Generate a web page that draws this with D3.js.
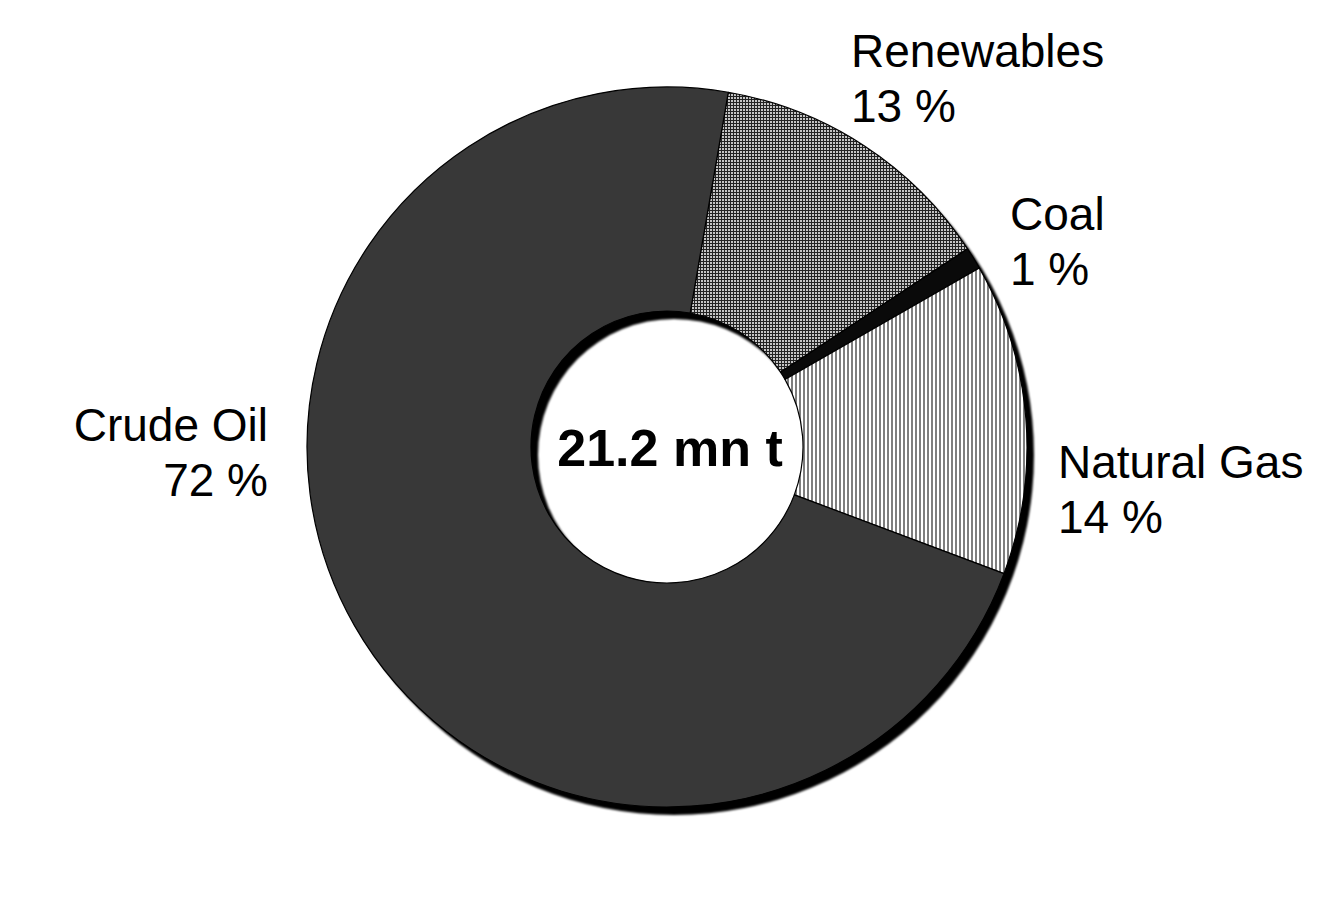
<!DOCTYPE html>
<html>
<head>
<meta charset="utf-8">
<script src="https://cdn.jsdelivr.net/npm/d3@7"></script>
<style>
  html, body { margin: 0; padding: 0; background: #fff; }
  svg { display: block; }
  text { font-family: "Liberation Sans", Arial, sans-serif; fill: #000; }
</style>
</head>
<body>
<svg id="chart" width="1338" height="900"></svg>
<script>
// ---- data ----
const categories = ["Renewables", "Coal", "Natural Gas", "Crude Oil"];
const shares = [13, 1, 14, 72];
const shareLabels = ["13 %", "1 %", "14 %", "72 %"];
const centerLabel = "21.2 mn t";

// ---- layout ----
const W = 1338, H = 900;
const cx = 667, cy = 447;
const outerR = 360, innerR = 136;
const startDeg = 9.8;

const svg = d3.select("#chart");
const defs = svg.append("defs");

// checker pattern (Renewables)
const pc = defs.append("pattern").attr("id", "checker")
  .attr("patternUnits", "userSpaceOnUse").attr("width", 3).attr("height", 3);
pc.append("rect").attr("width", 3).attr("height", 3).attr("fill", "#222222");
pc.append("rect").attr("x", 1).attr("y", 1).attr("width", 2).attr("height", 2).attr("fill", "#c4c4c4");

// vertical stripes (Natural Gas)
const ps = defs.append("pattern").attr("id", "vstripe")
  .attr("patternUnits", "userSpaceOnUse").attr("width", 4).attr("height", 4);
ps.append("rect").attr("width", 4).attr("height", 4).attr("fill", "#ffffff");
ps.append("rect").attr("x", 0).attr("width", 2).attr("height", 4).attr("fill", "#7e7e7e");

const fills = { "Renewables": "url(#checker)", "Coal": "#0a0a0a", "Natural Gas": "url(#vstripe)", "Crude Oil": "#383838" };

const blur = defs.append("filter").attr("id", "soft").attr("x", "-10%").attr("y", "-10%").attr("width", "120%").attr("height", "120%");
blur.append("feGaussianBlur").attr("stdDeviation", 0.8);

const data = categories.map((c, i) => ({ cat: c, value: shares[i], label: shareLabels[i] }));

const start = startDeg * Math.PI / 180;
const pie = d3.pie().sort(null).value(d => d.value)
  .startAngle(start).endAngle(start + 2 * Math.PI);
const arcs = pie(data);
const arc = d3.arc().innerRadius(innerR).outerRadius(outerR);

// shadow ring
svg.append("path")
  .attr("transform", `translate(${cx + 7},${cy + 8})`)
  .attr("d", d3.arc().innerRadius(innerR).outerRadius(outerR)({ startAngle: 0, endAngle: 2 * Math.PI }))
  .attr("fill", "#000")
  .attr("filter", "url(#soft)");

const g = svg.append("g").attr("transform", `translate(${cx},${cy})`);
g.selectAll("path.slice").data(arcs).join("path")
  .attr("class", "slice")
  .attr("d", arc)
  .attr("fill", d => fills[d.data.cat])
  .attr("stroke", "#000")
  .attr("stroke-width", 1.2)
  .attr("stroke-linejoin", "round");

// center label
svg.append("text")
  .attr("x", 670).attr("y", 466)
  .attr("text-anchor", "middle")
  .attr("font-size", 52).attr("font-weight", "bold")
  .text(centerLabel);

// slice labels
const labelPos = {
  "Renewables": { x: 851, y: 67, anchor: "start" },
  "Coal": { x: 1010, y: 230, anchor: "start" },
  "Natural Gas": { x: 1058, y: 478, anchor: "start" },
  "Crude Oil": { x: 268, y: 441, anchor: "end" }
};
const lg = svg.append("g");
data.forEach(d => {
  const p = labelPos[d.cat];
  const t = lg.append("text")
    .attr("x", p.x).attr("y", p.y)
    .attr("text-anchor", p.anchor)
    .attr("font-size", 46);
  t.append("tspan").attr("x", p.x).attr("dy", 0).text(d.cat);
  t.append("tspan").attr("x", p.x).attr("dy", 55).text(d.label);
});
</script>
</body>
</html>
